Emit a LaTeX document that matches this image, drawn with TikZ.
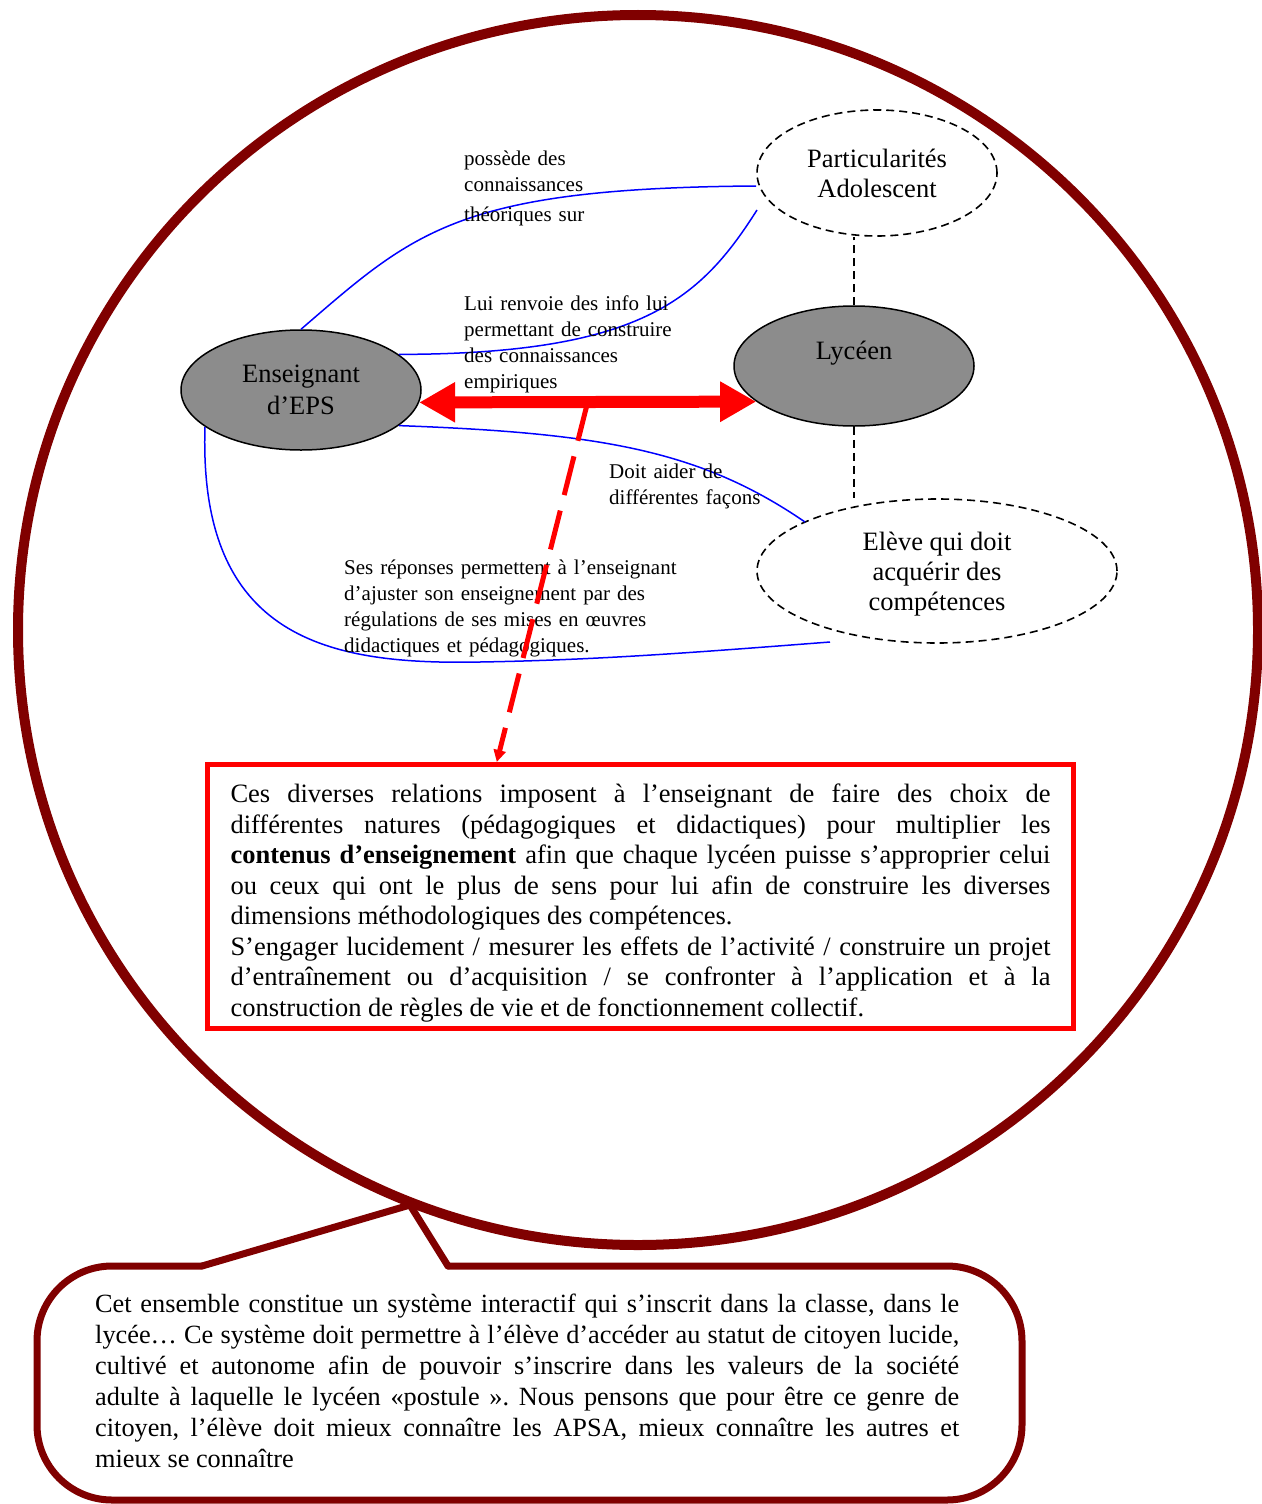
\documentclass[tikz,border=0pt]{standalone}
\usepackage{fontspec}
\setmainfont{Liberation Serif}
\usetikzlibrary{shapes.geometric,arrows.meta,calc}
\definecolor{ringred}{HTML}{800000}
\definecolor{ellgray}{HTML}{8C8C8C}
\frenchspacing

\begin{document}
\begin{tikzpicture}[x=1pt,y=-1pt,
  actor/.style={ellipse,draw=black,line width=1.5pt,fill=ellgray,minimum width=240pt,minimum height=120pt,inner sep=0pt,align=center,font=\fontsize{26.5}{32}\selectfont},
  idea/.style={ellipse,draw=black,dash pattern=on 8pt off 5pt,line width=1.6pt,inner sep=0pt,align=center,font=\fontsize{26.5}{30}\selectfont},
  link/.style={blue,line width=1.5pt},
  tie/.style={black,line width=1.6pt,dash pattern=on 8pt off 5pt},
  lbl/.style={anchor=base west,inner sep=0pt,text width=380pt,align=left,font=\fontsize{21}{26}\selectfont},
  ring/.style={ringred,line width=10pt},
  bubble/.style={ringred,line width=7pt,line cap=round,line join=round}]
\useasboundingbox (0,0) rectangle (1261,1504);

% bulle du bas
\draw[bubble,rounded corners=75pt] (448,1266) -- (1022,1266) -- (1022,1500) -- (37,1500) -- (37,1266) -- (202,1266);
\draw[bubble] (202,1266) -- (410,1205) -- (448,1266);
\node[anchor=base west,inner sep=0pt,text width=864pt,align=justify,font=\fontsize{26.3}{31}\selectfont] (note) at (95,1312)
 {Cet ensemble constitue un système interactif qui s'inscrit dans la classe, dans le\linebreak
 lycée… Ce système doit permettre à l'élève d'accéder au statut de citoyen lucide,\linebreak
 cultivé et autonome afin de pouvoir s'inscrire dans les valeurs de la société\linebreak
 adulte à laquelle le lycéen «postule~». Nous pensons que pour être ce genre de\linebreak
 citoyen, l'élève doit mieux connaître les APSA, mieux connaître les autres et\linebreak
 mieux se connaître};

% grand cercle
\draw[ring] (638,630) ellipse [x radius=620, y radius=615];

% acteurs
\node[actor] (ens) at (301,390) {Enseignant\\d'EPS};
\node[actor] (lyc) at (854,366) {};
\node[font=\fontsize{26.5}{30}\selectfont] (lyctxt) at ([yshift=13pt]lyc.center) {Lycéen};
\node[idea,minimum width=240pt,minimum height=126pt] (part) at (877,173) {Particularités\\Adolescent};
\node[idea,minimum width=360pt,minimum height=144pt,text depth=-5pt] (elv) at (937,571) {Elève qui doit\\acquérir des\\compétences};

\draw[tie] (lyc.north) -- (lyc.north |- part.south);
\draw[tie] (lyc.south) -- (lyc.south |- elv.north);

% liens
\draw[link] (ens.north) .. controls (414,232) and (457,188) .. (part.west |- 0,186);
\draw[link] (ens.20) .. controls (640,354) and (700,300) .. (757,210);
\draw[link] (ens.-20) .. controls (600,433) and (700,450) .. (805,522);
\draw[link] (ens.201) .. controls (198,640) and (330,665) .. (480,662) .. controls (600,660) and (700,652) .. (830,642);

\node[lbl] (l1) at (464,165) {possède des\\connaissances\\[4pt]théoriques sur};
\node[lbl] (l2) at (464,310) {Lui renvoie des info lui\\permettant de construire\\des connaissances\\empiriques};
\node[lbl] (l3) at (609,478) {Doit aider de\\différentes façons};
\node[lbl] (l4) at (344,574) {Ses réponses permettent à l'enseignant\\d'ajuster son enseignement par des\\régulations de ses mises en œuvres\\didactiques et pédagogiques.};

% cadre rouge
\node[draw=red,line width=5pt,anchor=north west,text width=820pt,inner xsep=23pt,minimum height=264pt,align=justify,font=\fontsize{26.5}{30.5}\selectfont] (box) at (205,762)
 {\rule{0pt}{32pt}Ces diverses relations imposent à l'enseignant de faire des choix de\linebreak
 différentes natures (pédagogiques et didactiques) pour multiplier les\linebreak
 \textbf{contenus d'enseignement} afin que chaque lycéen puisse s'approprier celui\linebreak
 ou ceux qui ont le plus de sens pour lui afin de construire les diverses\linebreak
 dimensions méthodologiques des compétences.\\
 S'engager lucidement / mesurer les effets de l'activité / construire un projet\linebreak
 d'entraînement ou d'acquisition / se confronter à l'application et à la\linebreak
 construction de règles de vie et de fonctionnement collectif.};

\draw[red,line width=12pt,{Triangle[length=36pt,width=38pt]}-{Triangle[length=36pt,width=38pt]}] (ens.-6) -- coordinate[pos=.5] (mid) (lyc.200);
\draw[red,line width=5pt,dash pattern=on 40pt off 16pt,-{Triangle[length=12pt,width=12pt]}] (mid) -- ($(box.north west)!0.335!(box.north east)$);
\end{tikzpicture}
\end{document}
